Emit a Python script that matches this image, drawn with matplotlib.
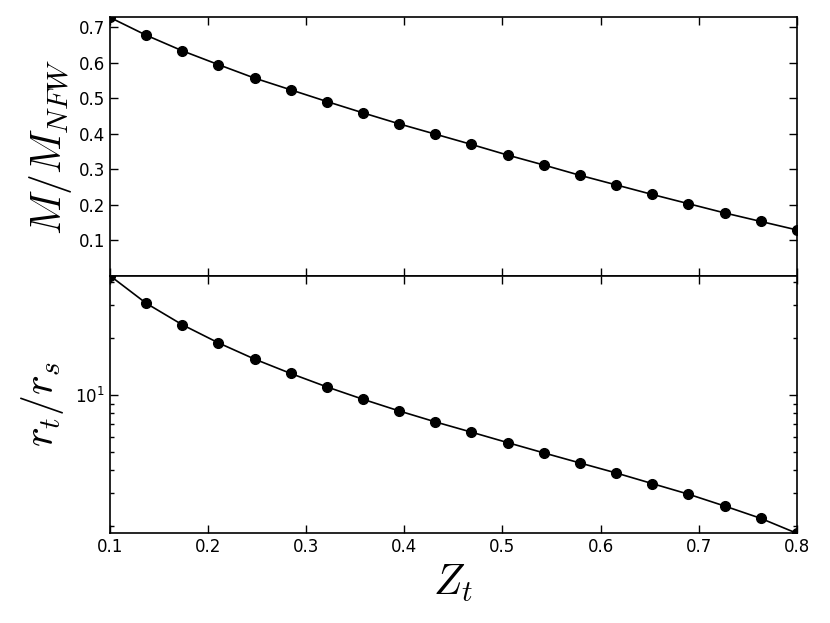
import numpy as np
import matplotlib
matplotlib.use("Agg")
import matplotlib.pyplot as plt
from matplotlib.ticker import NullFormatter

plt.rcParams['mathtext.fontset'] = 'cm'

# data
z_t = np.linspace(0.1, 0.8, 20)
mass_ratio = [0.728, 0.678, 0.634, 0.595, 0.557, 0.524, 0.491, 0.459, 0.428, 0.399,
              0.370, 0.340, 0.312, 0.283, 0.256, 0.229, 0.203, 0.177, 0.153, 0.129]
r_ratio = [43.0, 30.7, 23.6, 18.9, 15.5, 13.0, 11.03, 9.48, 8.22, 7.19,
           6.34, 5.58, 4.92, 4.35, 3.85, 3.38, 2.97, 2.57, 2.21, 1.84]

fig = plt.figure(figsize=(8.3, 6.23), dpi=100)
ax1 = fig.add_axes([0.1325, 0.5575, 0.8275, 0.4145])
ax2 = fig.add_axes([0.1325, 0.144, 0.8275, 0.4135])

# top panel: mass ratio
ax1.plot(z_t, mass_ratio, 'k-', lw=1.2)
ax1.plot(z_t, mass_ratio, 'ko', ms=7)
ax1.set_xlim(0.1, 0.8)
ax1.set_ylim(0.0, max(mass_ratio))
ax1.set_yticks([0.1, 0.2, 0.3, 0.4, 0.5, 0.6, 0.7])
ax1.set_xticks(np.arange(0.1, 0.81, 0.1))
ax1.set_xticklabels([])
ax1.set_ylabel(r'$M/M_{NFW}$', fontsize=30)
ax1.yaxis.set_label_coords(-0.053, 0.5)

# bottom panel: tidal radius
ax2.plot(z_t, r_ratio, 'k-', lw=1.2)
ax2.plot(z_t, r_ratio, 'ko', ms=7)
ax2.set_yscale('log')
ax2.set_xlim(0.1, 0.8)
ax2.set_ylim(min(r_ratio), max(r_ratio))
ax2.yaxis.set_minor_formatter(NullFormatter())
ax2.set_xticks(np.arange(0.1, 0.81, 0.1))
ax2.set_xticklabels(['0.1', '0.2', '0.3', '0.4', '0.5', '0.6', '0.7', '0.8'])
ax2.set_ylabel(r'$r_t/r_s$', fontsize=30)
ax2.yaxis.set_label_coords(-0.064, 0.5)
ax2.set_xlabel(r'$Z_t$', fontsize=30)

for ax in (ax1, ax2):
    ax.tick_params(which='both', direction='in', top=True, right=True, labelsize=12)
    ax.tick_params(which='major', length=5.5, width=1)
    ax.tick_params(which='minor', length=3, width=1)
    for s in ax.spines.values():
        s.set_linewidth(1.2)

fig.savefig('out.png', dpi=100)
